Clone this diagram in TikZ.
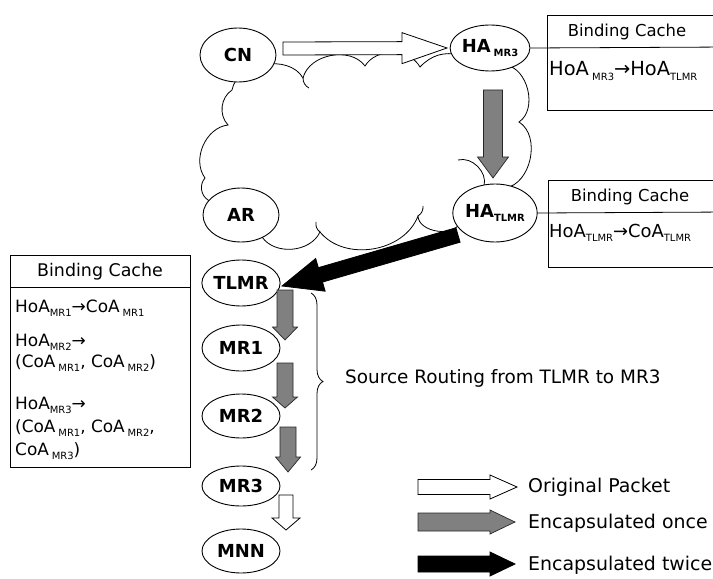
\documentclass[tikz,border=0pt]{standalone}
\usepackage{fontspec}
\setmainfont{DejaVu Sans}
\usetikzlibrary{calc,shapes.geometric,decorations.pathreplacing}

\newcommand\lowtxt[1]{\raisebox{-0.45ex}{\fontsize{10}{10}\selectfont #1}}
% #1 style, #2 from, #3 to, #4 shaft half width, #5 head half width, #6 head length
\newcommand\blockarrow[6]{%
  \coordinate (hb) at ($(#3)!#6!(#2)$);
  \draw[#1] ($(#2)!#4!90:(#3)$) -- ($(hb)!#4!90:(#3)$) -- ($(hb)!#5!90:(#3)$) -- (#3)
    -- ($(hb)!#5!-90:(#3)$) -- ($(hb)!#4!-90:(#3)$) -- ($(#2)!#4!-90:(#3)$) -- cycle;
}

\begin{document}
\begin{tikzpicture}[x=1bp,y=-1bp,
  nd/.style={ellipse, draw, line width=0.9bp, fill=white, inner sep=0pt,
    font=\fontsize{18}{20}\selectfont\bfseries},
  boxline/.style={draw, line width=0.8bp},
  cloudline/.style={draw, line width=0.8bp},
  whitearrow/.style={draw=black, fill=white, line width=0.8bp},
  grayarrow/.style={draw=black!85, fill=black!50, line width=0.7bp},
  blackarrow/.style={draw=black, fill=black, line width=0.8bp},
  title/.style={font=\fontsize{16.5}{20}\selectfont},
  rowtxt/.style={anchor=west, inner sep=0pt, font=\fontsize{17}{20}\selectfont},
  legtxt/.style={anchor=west, inner sep=0pt, font=\fontsize{19}{22}\selectfont}]
\clip (0,0) rectangle (713,579);
\fill[white] (0,0) rectangle (713,579);

% cloud
\draw[cloudline] (228,125) to[bend left=50] (232,90) to[bend left=70] (303,78)
  to[bend left=65] (365,66) to[bend left=60] (420,67) to[bend left=30] (460,55)
  -- (505,65) to[bend left=70] (519,122) to[bend left=70] (505,188)
  -- (460,222) to[bend left=80] (418,216) to[bend left=60] (320,232)
  to[bend left=60] (262,237) -- (208,200) to[bend left=50] (205,178)
  to[bend left=60] cycle;
\draw[cloudline] (458,160) to[bend left=60] (484,186);
\draw[cloudline] (303,78) to[bend right=30] (309,88);
\draw[cloudline] (320,232) to[bend left=30] (316,222);
\draw[cloudline] (418,216) to[bend right=30] (423,206);

% nodes
\node[nd, minimum width=76bp, minimum height=54bp] (CN) at (238,55) {CN};
\node[nd, minimum width=74bp, minimum height=46bp] (HAm) at (490,48) {HA\,\lowtxt{MR3}};
\node[nd, minimum width=76bp, minimum height=54bp] (AR) at (241,215) {AR};
\node[nd, minimum width=76bp, minimum height=58bp] (HAt) at (495,213) {HA\lowtxt{TLMR}};
\node[nd, minimum width=78bp, minimum height=46bp] (TLMR) at (241,283) {TLMR};
\node[nd, minimum width=78bp, minimum height=46bp] (MR1) at (241,348) {MR1};
\node[nd, minimum width=78bp, minimum height=44bp] (MR2) at (241,416) {MR2};
\node[nd, minimum width=78bp, minimum height=40bp] (MR3) at (241,486) {MR3};
\node[nd, minimum width=78bp, minimum height=44bp] (MNN) at (241,551) {MNN};

% binding cache boxes
\draw[boxline] (547,15) rectangle (730,110);
\coordinate (bc1r) at (730,47);
\draw[boxline] (HAm.east) -- (bc1r);
\node[title] (bc1t) at (627,32) {Binding Cache};
\node[rowtxt, font=\fontsize{19.5}{22}\selectfont] (bc1a) at (549,71) {HoA\,\lowtxt{MR3}→HoA\lowtxt{TLMR}};

\draw[boxline] (548,180) rectangle (730,267);
\coordinate (bc2r) at (730,212);
\draw[boxline] (HAt.east) -- (bc2r);
\node[title] (bc2t) at (630,197) {Binding Cache};
\node[rowtxt, font=\fontsize{18}{22}\selectfont] (bc2a) at (549,233) {HoA\lowtxt{TLMR}→CoA\lowtxt{TLMR}};

\draw[boxline] (10,255) rectangle (190,467);
\draw[boxline] (10,287) -- (190,287);
\node[title, font=\fontsize{17.5}{20}\selectfont] (bc3t) at (100,272) {Binding Cache};
\node[rowtxt] (r1) at (15,308) {HoA\lowtxt{MR1}→CoA\,\lowtxt{MR1}};
\node[rowtxt] (r2a) at (15,342) {HoA\lowtxt{MR2}→};
\node[rowtxt] (r2b) at (15,363) {(CoA\,\lowtxt{MR1}, CoA\,\lowtxt{MR2})};
\node[rowtxt] (r3a) at (15,405) {HoA\lowtxt{MR3}→};
\node[rowtxt] (r3b) at (15,428) {(CoA\,\lowtxt{MR1}, CoA\,\lowtxt{MR2},};
\node[rowtxt] (r3c) at (15,451) {CoA\,\lowtxt{MR3})};

% packet arrows
\coordinate (w1s) at (283,48.5); \coordinate (w1e) at (447,48);
\blockarrow{whitearrow}{w1s}{w1e}{6.5bp}{15.5bp}{45bp}
\coordinate (g1s) at (493,90); \coordinate (g1e) at (493,178);
\blockarrow{grayarrow}{g1s}{g1e}{9.5bp}{15.5bp}{21bp}
\coordinate (b1s) at (458,235); \coordinate (b1e) at (282,286);
\blockarrow{blackarrow}{b1s}{b1e}{7.5bp}{17bp}{40bp}

\coordinate (g2s) at (285,290); \coordinate (g2e) at (285,340);
\blockarrow{grayarrow}{g2s}{g2e}{8bp}{12.5bp}{13bp}
\coordinate (g3s) at (285,363); \coordinate (g3e) at (285,408);
\blockarrow{grayarrow}{g3s}{g3e}{8bp}{12.5bp}{11bp}
\coordinate (g4s) at (288,427); \coordinate (g4e) at (288,472);
\blockarrow{grayarrow}{g4s}{g4e}{8bp}{12.5bp}{15bp}
\coordinate (w2s) at (286,495); \coordinate (w2e) at (286,530);
\blockarrow{whitearrow}{w2s}{w2e}{7bp}{14bp}{12bp}

% brace
\coordinate (brt) at (311,293); \coordinate (brb) at (311,470);
\draw[line width=0.8bp, decorate, decoration={brace, amplitude=12bp}] (brt) -- (brb);
\node[legtxt, font=\fontsize{18.5}{22}\selectfont] (src) at (345,378) {Source Routing from TLMR to MR3};

% legend
\coordinate (l1s) at (418,487); \coordinate (l1e) at (517,487);
\blockarrow{whitearrow}{l1s}{l1e}{7.5bp}{12bp}{27bp}
\node[legtxt] (l1t) at (528,487) {Original Packet};
\coordinate (l2s) at (418,522); \coordinate (l2e) at (515,522);
\blockarrow{grayarrow}{l2s}{l2e}{9bp}{12bp}{25bp}
\node[legtxt] (l2t) at (528,523) {Encapsulated once};
\coordinate (l3s) at (418,564); \coordinate (l3e) at (515,564);
\blockarrow{blackarrow}{l3s}{l3e}{8bp}{12bp}{25bp}
\node[legtxt] (l3t) at (528,565) {Encapsulated twice};
\end{tikzpicture}
\end{document}
